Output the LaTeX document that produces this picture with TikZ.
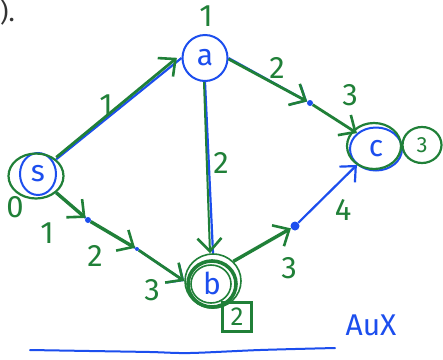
\documentclass[tikz,border=0pt]{standalone}
\usepackage{fontspec}
\setmainfont{Fira Sans}
\usetikzlibrary{arrows.meta,shapes.geometric}
\definecolor{penblue}{RGB}{28,78,238}
\definecolor{pengreen}{RGB}{32,128,56}
\tikzset{
  x=1pt, y=-1pt,
  vert/.style={draw=penblue, line width=2pt, ellipse, inner sep=0pt, text=penblue,
    font=\fontsize{30}{32}\selectfont},
  ring/.style={draw=pengreen, line width=2.2pt, ellipse, inner sep=0pt},
  dotnode/.style={circle, fill=penblue, inner sep=0pt, minimum size=6pt},
  wt/.style={text=pengreen, font=\fontsize{31}{33}\selectfont, inner sep=1pt},
  bluepath/.style={draw=penblue, line width=2.2pt},
  greenpath/.style={draw=pengreen, line width=2.8pt},
  gtip/.style={-{Straight Barb[length=13pt,width=24pt,line width=2.6pt]}},
  btip/.style={-{Straight Barb[length=12pt,width=22pt,line width=2.2pt]}},
}
\begin{document}
\begin{tikzpicture}
\useasboundingbox (0,0) rectangle (443,359);
\fill[white] (0,0) rectangle (443,359);

% leftover text at the top edge
\node[text=black!80, font=\fontsize{26}{28}\selectfont, anchor=west, inner sep=0pt] (tail) at (0,12) {).};

% vertices
\node[vert, minimum width=45pt, minimum height=46pt] (a) at (205,58) {a};
\node[wt] (da) at (206,16) {1};

\node[vert, minimum width=36pt, minimum height=42pt] (s) at (38,174) {s};
\node[ring, minimum width=55pt, minimum height=45pt] (sr) at (36,176) {};
\node[wt] (ds) at (15,207) {0};

\node[vert, minimum width=52pt, minimum height=43pt] (c) at (376,149) {c};
\node[ring, minimum width=54pt, minimum height=46pt] (cr) at (374,146) {};
\node[ring, minimum width=39pt, minimum height=36pt, wt, font=\fontsize{22}{24}\selectfont] (dc) at (422,145) {3};

\node[vert, draw=none, minimum width=48pt, minimum height=46pt] (b) at (212,283) {b};
\node[ring, line width=3.6pt, minimum width=48pt, minimum height=46pt] (br1) at (212,284) {};
\node[ring, line width=1.6pt, minimum width=56pt, minimum height=54pt] (br2) at (213,281) {};
\node[ring, line width=1.6pt, minimum width=40pt, minimum height=38pt] (br3) at (211,284) {};
\node[draw=pengreen, line width=2.2pt, minimum size=29pt, inner sep=0pt, wt, font=\fontsize{26}{28}\selectfont] (db) at (237,317) {2};

% intermediate points on the paths
\node[dotnode] (m1) at (310,103) {};
\node[dotnode, minimum size=6pt] (d1) at (88,220) {};
\node[dotnode, minimum size=4pt] (d2) at (137,249) {};
\node[dotnode, minimum size=9pt] (d3) at (295,226) {};

% s -> a
\draw[bluepath] (sr.north east) -- (a.west);
\draw[greenpath, gtip, shorten >=6pt] ([yshift=2pt]sr.north east) -- ([yshift=4pt]a.west);
\node[wt] (w1) at (106,105) {1};

% a -> c through m1
\draw[bluepath, btip] (a.east) -- (m1);
\draw[greenpath, gtip] ([yshift=-1pt]a.east) -- (m1);
\draw[greenpath, gtip] (m1) -- (c.north west);
\node[wt] (w2) at (277,68) {2};
\node[wt] (w3) at (350,95) {3};

% a -> b
\draw[bluepath] (a.south) -- (br2.north);
\draw[greenpath, line width=2pt, gtip] ([xshift=-1pt]a.south) -- ([xshift=-3pt]br2.north);
\node[wt] (w4) at (221,163) {2};

% s -> b through d1, d2
\draw[bluepath] (sr.south east) -- (d1);
\draw[greenpath, line width=3.4pt, gtip] (sr.south east) -- (d1);
\draw[bluepath] (d1) -- (d2);
\draw[greenpath, line width=3.4pt, gtip] (d1) -- (d2);
\draw[bluepath, btip] (d2) -- (br2.west);
\draw[greenpath, gtip] ([yshift=-2pt]d2) -- (br2.west);
\node[wt] (w5) at (47,233) {1};
\node[wt] (w6) at (95,256) {2};
\node[wt] (w7) at (152,290) {3};

% b -> c through d3
\draw[greenpath, line width=3.4pt, gtip] (br2.north east) -- (d3);
\draw[bluepath, btip] (d3) -- (c.south west);
\node[wt] (w8) at (289,268) {3};
\node[wt] (w9) at (343,210) {4};

% underline and side note
\draw[penblue, line width=2pt, line cap=round]
  plot[smooth] coordinates {(30,350) (90,351) (150,352) (190,353) (260,350) (335,348)};
\node[text=penblue, font=\fontsize{30}{32}\selectfont] (aux) at (371,325) {AuX};
\end{tikzpicture}
\end{document}
